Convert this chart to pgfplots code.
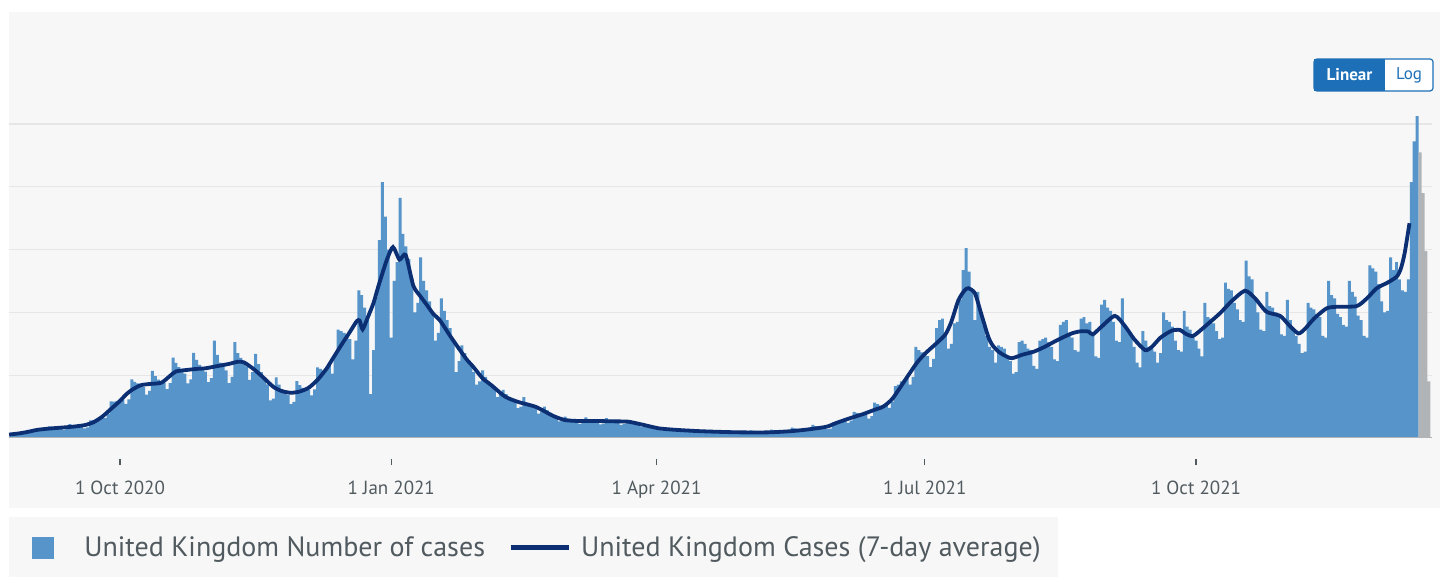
\documentclass[border=0pt]{standalone}
\usepackage{pgfplots}
\pgfplotsset{compat=1.18}
\usepackage{pgfplotstable}
\usepackage{fontspec}
\setmainfont{PT Sans}
\definecolor{barblue}{HTML}{5694CA}
\definecolor{linenavy}{HTML}{0B2F72}
\definecolor{greybar}{HTML}{B1B4B6}
\definecolor{panel}{HTML}{F7F7F7}
\definecolor{gridc}{HTML}{E6E6E6}
\definecolor{txt}{HTML}{505A5F}
\definecolor{btnblue}{HTML}{1D70B8}

% daily cases (thousands), first row starts 25 Aug 2020 (day -37; day 0 = 1 Oct 2020)
\pgfplotstableread[row sep=\\]{
v\\
1.3\\1.4\\1.5\\1.6\\1.4\\1.7\\
2.4\\2.5\\2.5\\2.5\\2.5\\2.2\\2.5\\
3.7\\3.4\\3.3\\3.2\\3.1\\2.6\\2.9\\
4.4\\4.1\\3.9\\3.7\\3.6\\3.1\\3.4\\
5.6\\5.7\\6.1\\6.5\\6.8\\6.3\\7.6\\
11.7\\11.6\\11.8\\12.0\\12.2\\10.9\\12.3\\
18.7\\17.9\\17.4\\16.8\\16.2\\13.8\\15.0\\
21.4\\19.7\\18.6\\17.8\\17.6\\15.6\\17.5\\
25.6\\23.9\\22.6\\21.5\\20.5\\17.4\\18.7\\
27.1\\24.9\\23.3\\22.2\\21.1\\17.8\\19.1\\
31.0\\26.5\\24.0\\23.0\\21.5\\17.5\\19.5\\
30.5\\27.0\\25.5\\24.3\\22.8\\18.5\\21.0\\
26.8\\23.5\\21.0\\19.0\\17.1\\12.0\\12.5\\
19.3\\17.0\\15.5\\14.5\\13.7\\10.8\\11.5\\
18.1\\16.8\\16.0\\15.5\\15.4\\13.6\\15.5\\
22.5\\22.0\\21.5\\22.0\\23.5\\20.5\\26.5\\
34.5\\34.0\\33.5\\33.0\\31.5\\25.0\\31.0\\
47.0\\45.5\\41.5\\38.0\\14.0\\28.0\\45.0\\
63.0\\81.5\\70.5\\60.0\\32.0\\50.0\\56.0\\
76.5\\65.0\\61.0\\57.0\\51.0\\40.0\\43.0\\
57.5\\50.0\\47.0\\43.5\\40.0\\31.0\\33.5\\
44.5\\40.5\\37.5\\35.0\\31.5\\21.0\\24.5\\
29.5\\27.0\\24.5\\23.0\\21.0\\17.0\\18.0\\
21.5\\19.5\\18.0\\17.0\\16.0\\13.0\\14.0\\
15.3\\14.0\\13.0\\12.3\\11.5\\9.5\\10.0\\
13.0\\11.3\\10.7\\10.2\\9.6\\7.8\\8.5\\
10.0\\8.8\\8.0\\7.3\\6.5\\5.3\\5.5\\
6.8\\6.2\\5.9\\5.6\\5.3\\4.5\\4.8\\
6.6\\6.0\\5.7\\5.4\\5.1\\4.3\\4.6\\
6.3\\5.8\\5.5\\5.2\\4.9\\4.2\\4.5\\
5.6\\5.2\\4.8\\4.6\\4.3\\3.6\\3.9\\
4.1\\3.7\\3.4\\3.2\\2.8\\2.4\\2.5\\
2.8\\3.2\\2.9\\2.7\\2.5\\2.1\\2.2\\
2.9\\2.6\\2.4\\2.3\\2.2\\1.8\\1.9\\
2.6\\2.4\\2.2\\2.1\\2.0\\1.7\\1.8\\
2.5\\2.3\\2.1\\2.0\\1.9\\1.6\\1.7\\
2.4\\2.3\\2.1\\2.0\\1.9\\1.6\\1.7\\
2.7\\2.5\\2.3\\2.2\\2.1\\1.8\\1.9\\
3.3\\3.1\\2.9\\2.8\\2.7\\2.3\\2.5\\
4.2\\3.8\\3.6\\3.4\\3.3\\2.8\\3.0\\
5.0\\5.0\\5.1\\5.3\\5.4\\4.8\\5.5\\
8.3\\8.0\\7.8\\7.5\\7.3\\6.2\\7.0\\
11.3\\10.8\\10.3\\10.0\\10.5\\9.6\\11.6\\
16.5\\17.0\\18.0\\18.5\\19.5\\17.0\\19.5\\
29.0\\28.0\\27.3\\26.8\\26.1\\22.6\\25.2\\
35.0\\37.5\\38.0\\33.0\\28.5\\30.0\\36.5\\
37.0\\44.0\\53.5\\60.5\\53.0\\46.5\\37.5\\
46.5\\40.0\\36.0\\32.5\\29.0\\28.0\\24.0\\
29.5\\29.0\\28.5\\26.0\\24.5\\20.5\\21.0\\
30.5\\31.0\\30.0\\28.5\\28.0\\23.0\\22.0\\
31.0\\31.5\\32.0\\30.5\\29.0\\25.0\\24.5\\
36.0\\37.0\\37.5\\33.5\\32.0\\28.0\\27.5\\
38.0\\38.5\\36.5\\37.0\\33.0\\26.0\\25.5\\
42.5\\44.0\\41.5\\40.5\\37.0\\31.0\\30.5\\
44.5\\36.0\\33.5\\32.5\\29.0\\24.0\\22.5\\
34.0\\31.0\\29.0\\28.5\\27.5\\24.0\\27.0\\
40.0\\37.5\\37.0\\35.5\\31.0\\28.0\\27.5\\
40.5\\35.5\\34.5\\32.0\\31.0\\28.5\\26.0\\
43.0\\38.5\\38.0\\36.5\\34.0\\31.5\\32.0\\
49.5\\47.5\\47.0\\43.0\\41.0\\37.5\\37.0\\
56.5\\51.5\\50.5\\44.0\\40.0\\34.5\\34.0\\
46.5\\42.0\\41.5\\40.0\\39.0\\33.0\\32.5\\
44.0\\37.5\\34.5\\32.5\\30.0\\27.0\\27.5\\
43.0\\41.5\\41.0\\39.5\\38.5\\32.5\\32.0\\
50.0\\45.5\\44.5\\39.5\\38.5\\36.0\\35.5\\
50.0\\46.5\\45.0\\39.0\\37.5\\32.5\\32.0\\
55.0\\54.0\\53.0\\49.0\\43.5\\40.0\\40.5\\
57.5\\53.5\\56.0\\50.5\\47.0\\46.5\\50.5\\
81.5\\94.5\\102.5\\
}\casesdaily

% incomplete recent days (grey)
\pgfplotstableread[row sep=\\]{
d v\\
441 91.0\\
442 78.0\\
443 59.5\\
444 18.0\\
}\casesrecent

\begin{document}
\begin{tikzpicture}
\path[use as bounding box] (0,0) rectangle (722pt,288.5pt);
\fill[white] (0,0) rectangle (722pt,288.5pt);
\fill[panel] (4.5pt,34.5pt) rectangle (720pt,282.5pt);
\fill[panel] (4.5pt,0pt) rectangle (529pt,30pt);
\begin{axis}[
  at={(4.5pt,69.5pt)}, anchor=south west,
  scale only axis, width=711.5pt, height=213pt,
  xmin=-37.65, xmax=445.05, ymin=0, ymax=135.67,
  axis line style={draw=none},
  ytick={20,40,60,80,100}, yticklabels={}, ymajorgrids,
  ytick style={draw=none},
  grid style={gridc, line width=0.6pt},
  xtick={0,92,182,273,365},
  xticklabels={1 Oct 2020,1 Jan 2021,1 Apr 2021,1 Jul 2021,1 Oct 2021},
  xtick pos=bottom,
  xtick style={draw=txt, line width=0.6pt, yshift=-10.5pt},
  major tick length=3pt, tick align=outside,
  xticklabel style={font=\fontsize{9.5}{11}\selectfont, text=txt, anchor=base, yshift=-25.5pt},
  legend columns=2,
  legend cell align=left,
  legend style={at={(0.01616,-0.2582)}, anchor=west, draw=none, fill=none,
    inner sep=0pt, font=\fontsize{14}{16}\selectfont, text=txt,
    nodes={inner sep=0pt},
    /tikz/every odd column/.append style={column sep=5pt},
    /tikz/every even column/.append style={column sep=11.5pt}},
]
\addplot[ybar, bar width=1, bar shift=0pt, fill=barblue, draw=none,
  legend image code/.code={\fill[barblue] (0pt,-5.5pt) rectangle (11pt,5.5pt); \path (21pt,0pt);}]
  table[x expr=\coordindex-37, y=v] {\casesdaily};
\addlegendentry{United Kingdom Number of cases}
\addplot[ybar, bar width=1, bar shift=0pt, fill=greybar, draw=none, forget plot]
  table[x=d, y=v] {\casesrecent};
\addplot[linenavy, line width=1.9pt, smooth, tension=0.4, no markers,
  legend image code/.code={\draw[linenavy, line width=2.5pt] (0pt,0pt) -- (29pt,0pt);}]
  coordinates {
(-37.6,1.1) (-34,1.5) (-31,2.0) (-28,2.6) (-24,3.0) (-20,3.3) (-16,3.6) (-12,4.1) (-9,5.0) (-6,6.8) (-3,9.3) (0,11.8) (2,13.8) (4,15.3) (7,16.8) (10,17.2) (14,17.6) (17,19.8) (19,21.2) (23,21.7) (26,22.0) (29,22.2) (33,22.9) (37,23.6) (40,24.3) (42,24.1) (45,22.2) (48,19.8) (52,16.3) (55,14.9) (58,14.4) (61,14.8) (64,16.0) (67,18.5) (70,22.0) (72,25.0) (75,29.5) (78,33.8) (80.3,37.2) (81.3,37.4) (82.3,34.6) (84,38.3) (86,43.0) (87.6,48.2) (90.5,56.7) (92.6,60.8) (94.8,56.8) (96.9,58.3) (99.5,48.5) (102,45.0) (104,42.5) (106.3,39.5) (108.5,37.5) (112,32.5) (114.2,29.5) (117.6,25.0) (119.8,22.7) (123,19.0) (126,16.8) (130.6,13.2) (135,11.5) (140.8,10.0) (144,8.5) (147,7.0) (151,5.7) (156,5.4) (162,5.4) (168,5.3) (172.4,5.2) (177,4.3) (182.6,3.1) (187,2.7) (192,2.4) (196,2.2) (201.8,2.0) (210,1.8) (220,1.8) (228,2.2) (234,2.8) (239.7,3.6) (243,4.8) (247.6,6.3) (252,7.6) (256,9.0) (258.9,10.0) (262,12.5) (266,18.0) (270.2,23.8) (273,26.8) (277,30.2) (280,33.0) (282,37.0) (284.4,43.9) (286.5,47.0) (287.8,47.7) (290,46.1) (292,40.0) (294.5,32.3) (296,29.5) (298,27.5) (300,26.3) (302.5,25.4) (306,26.5) (310,27.5) (313.8,29.1) (318,31.2) (322.8,33.3) (326,34.0) (328.5,33.9) (330,33.0) (333,35.5) (337.5,38.9) (341,35.5) (344,31.5) (347.7,28.0) (350,29.0) (353,32.0) (356.8,34.2) (359.6,34.4) (361.3,33.3) (364,32.5) (368,35.5) (373.1,39.7) (377,43.5) (381.6,46.9) (385,44.5) (388.9,40.2) (393.5,38.9) (396.5,36.0) (399.7,33.3) (402,34.8) (405,38.0) (409.3,41.3) (413,41.8) (419.5,42.0) (423,44.5) (426.3,47.7) (430,49.5) (433.1,51.4) (434.5,54.0) (435.8,59.0) (437.4,68.4)
  };
\addlegendentry{United Kingdom Cases (7-day average)}
\draw[greybar, line width=0.5pt] (axis cs:-37.65,0) -- (axis cs:445.05,0);
\end{axis}
% Linear / Log toggle
\fill[white] (657pt,243pt) rectangle (716.5pt,259pt);
\fill[btnblue] (657pt,243pt) rectangle (692.5pt,259pt);
\draw[btnblue, line width=0.6pt, rounded corners=1.5pt] (657pt,243pt) rectangle (716.5pt,259pt);
\node[text=white, font=\bfseries\fontsize{8.5}{10}\selectfont] at (674.75pt,251pt) {Linear};
\node[text=btnblue, font=\fontsize{8.5}{10}\selectfont] at (704.5pt,251pt) {Log};
\end{tikzpicture}
\end{document}
